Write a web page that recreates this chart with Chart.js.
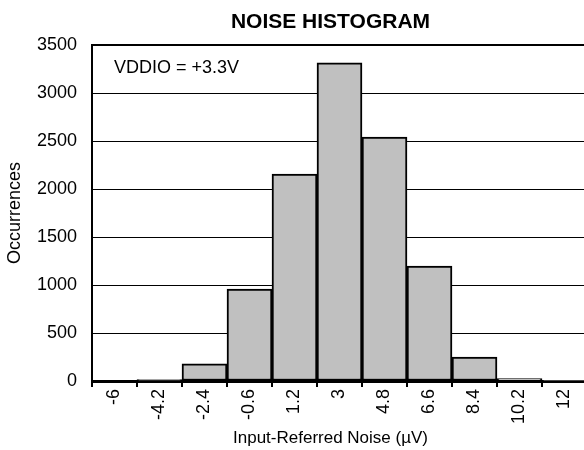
<!DOCTYPE html>
<html>
<head>
<meta charset="utf-8">
<script src="https://cdn.jsdelivr.net/npm/chart.js@4"></script>
<style>
  html, body { margin: 0; padding: 0; background: #fff; overflow: hidden; }
  #wrap { width: 584px; height: 450px; overflow: hidden; position: relative; }
  canvas { display: block; }
</style>
</head>
<body>
<div id="wrap"><canvas id="c" width="592" height="450" style="width:592px;height:450px"></canvas></div>
<script>
const categories = ["-6", "-4.2", "-2.4", "-0.6", "1.2", "3", "4.8", "6.6", "8.4", "10.2", "12"];
const occurrences = [0, 15, 178, 957, 2155, 3315, 2540, 1198, 250, 25, 6];
const yTicks = [0, 500, 1000, 1500, 2000, 2500, 3000, 3500];
const chartTitle = "NOISE HISTOGRAM";
const noteText = "VDDIO = +3.3V";
const xTitle = "Input-Referred Noise (µV)";
const yTitle = "Occurrences";

const FONT = "'Liberation Sans', Arial, sans-serif";

// Draws the chart title, the x-axis title and the in-plot note,
// centred slightly left of the (clipped) plot area as in the original.
const textPlugin = {
  id: 'texts',
  afterDraw(chart) {
    const { ctx, chartArea } = chart;
    const cx = (chartArea.left + chartArea.right) / 2 - 9;
    ctx.save();
    ctx.fillStyle = "#000";
    ctx.textBaseline = "middle";

    ctx.textAlign = "center";
    ctx.font = "bold 21px " + FONT;
    ctx.fillText(chartTitle, cx, chartArea.top - 23);

    ctx.font = "17px " + FONT;
    ctx.fillText(xTitle, cx, chart.height - 12);

    ctx.font = "18px " + FONT;
    ctx.textAlign = "left";
    ctx.fillText(noteText, chartArea.left + 22, chartArea.top + 23);
    ctx.restore();
  }
};

new Chart(document.getElementById('c'), {
  type: 'bar',
  data: {
    labels: categories,
    datasets: [{
      data: occurrences,
      backgroundColor: '#c0c0c0',
      borderColor: '#000',
      borderWidth: 2,
      borderSkipped: false,
      categoryPercentage: 1.0,
      barPercentage: 1.0
    }]
  },
  options: {
    responsive: false,
    animation: false,
    devicePixelRatio: 1,
    layout: { padding: { left: 0, right: 5, top: 45, bottom: 0 } },
    plugins: {
      legend: { display: false },
      tooltip: { enabled: false },
      title: { display: false }
    },
    scales: {
      x: {
        type: 'category',
        offset: true,
        grid: {
          offset: true,
          drawOnChartArea: false,
          drawTicks: true,
          tickLength: 6,
          color: '#000',
          lineWidth: 2
        },
        border: { display: true, color: '#000', width: 3 },
        ticks: {
          color: '#000',
          font: { family: FONT, size: 18 },
          maxRotation: 90,
          minRotation: 90,
          padding: 2,
          autoSkip: false
        },
        title: { display: false },
        afterFit(s) { s.height = 69; }
      },
      y: {
        min: 0,
        max: 3500,
        afterBuildTicks(s) { s.ticks = yTicks.map(v => ({ value: v })); },
        grid: {
          drawTicks: false,
          color: '#000',
          lineWidth: (c) => (c.tick && c.tick.value === 3500 ? 2 : 1)
        },
        border: { display: true, color: '#000', width: 2 },
        ticks: {
          color: '#000',
          font: { family: FONT, size: 18 },
          padding: 15,
          callback: (v) => String(v)
        },
        title: {
          display: true,
          text: yTitle,
          color: '#000',
          font: { family: FONT, size: 18 },
          padding: { top: 4, bottom: 0 }
        },
        afterFit(s) { s.width = 92; }
      }
    }
  },
  plugins: [textPlugin]
});
</script>
</body>
</html>
